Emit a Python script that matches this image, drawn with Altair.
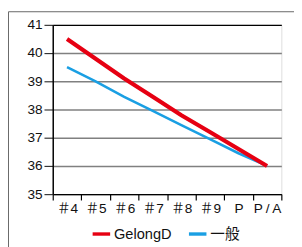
import altair as alt
import pandas as pd

categories = ["＃4", "＃5", "＃6", "＃7", "＃8", "＃9", "P", "P\u2009/\u2009A"]
gelong = [40.5, 39.8, 39.1, 38.45, 37.8, 37.2, 36.6, 36.0]
ippan = [39.5, 39.0, 38.45, 37.95, 37.45, 36.95, 36.45, 36.0]
series_names = ["GelongD", "一般"]
y_ticks = [35, 36, 37, 38, 39, 40, 41]

rows = []
for c, v in zip(categories, gelong):
    rows.append({"cat": c, "val": v, "series": series_names[0]})
for c, v in zip(categories, ippan):
    rows.append({"cat": c, "val": v, "series": series_names[1]})
df = pd.DataFrame(rows)

FONT = "Liberation Sans, Arial, Noto Sans CJK JP"

color = alt.Color(
    "series:N",
    scale=alt.Scale(domain=series_names, range=["#e60012", "#1a9fe3"]),
    legend=alt.Legend(
        title=None, orient="none", direction="horizontal",
        legendX=39, legendY=204,
        symbolType="stroke", symbolSize=324, symbolStrokeWidth=3.5,
        labelFont=FONT, labelFontSize=15, labelColor="#111",
        labelOffset=2, columnPadding=10, padding=0,
    ),
)

x = alt.X(
    "cat:N", sort=categories, title=None,
    scale=alt.Scale(paddingInner=0, paddingOuter=0),
    axis=alt.Axis(
        labelAngle=0, labelFont=FONT, labelFontSize=14, labelColor="#111",
        tickBand="extent", tickSize=6, tickColor="#000", tickWidth=1.2,
        domainColor="#000", domainWidth=1.5, labelPadding=2, grid=False,
    ),
)
y = alt.Y(
    "val:Q", title=None,
    scale=alt.Scale(domain=[35, 41], nice=False, zero=False),
    axis=alt.Axis(
        values=y_ticks, labelFont=FONT, labelFontSize=14, labelColor="#111",
        tickSize=9, tickColor="#333", tickWidth=1.2, labelPadding=2,
        domainColor="#000", domainWidth=1.5,
        gridColor=alt.condition("datum.value == 41", alt.value("#000"), alt.value("#808080")),
        gridWidth=1.5, gridOpacity=1,
    ),
)

base = alt.Chart(df)
blue = base.transform_filter(alt.datum.series == series_names[1]).mark_line(strokeWidth=2.6).encode(x=x, y=y, color=color)
red = base.transform_filter(alt.datum.series == series_names[0]).mark_line(strokeWidth=4.2).encode(x=x, y=y, color=color)

frame = alt.Chart(pd.DataFrame({"a": [0]})).mark_rect(
    fillOpacity=0, stroke="#666", strokeWidth=1, clip=False
).encode(
    x=alt.value(-45.5), y=alt.value(-13.5), x2=alt.value(500), y2=alt.value(500)
)

chart = alt.layer(frame, blue, red).properties(
    width=235, height=174,
    autosize=alt.AutoSizeParams(type="none"),
    padding={"left": 46, "top": 14, "right": 13, "bottom": 51},
).configure_view(stroke=None).configure(background="white")

chart.save("out.html", embed_options={"renderer": "svg", "actions": False})
